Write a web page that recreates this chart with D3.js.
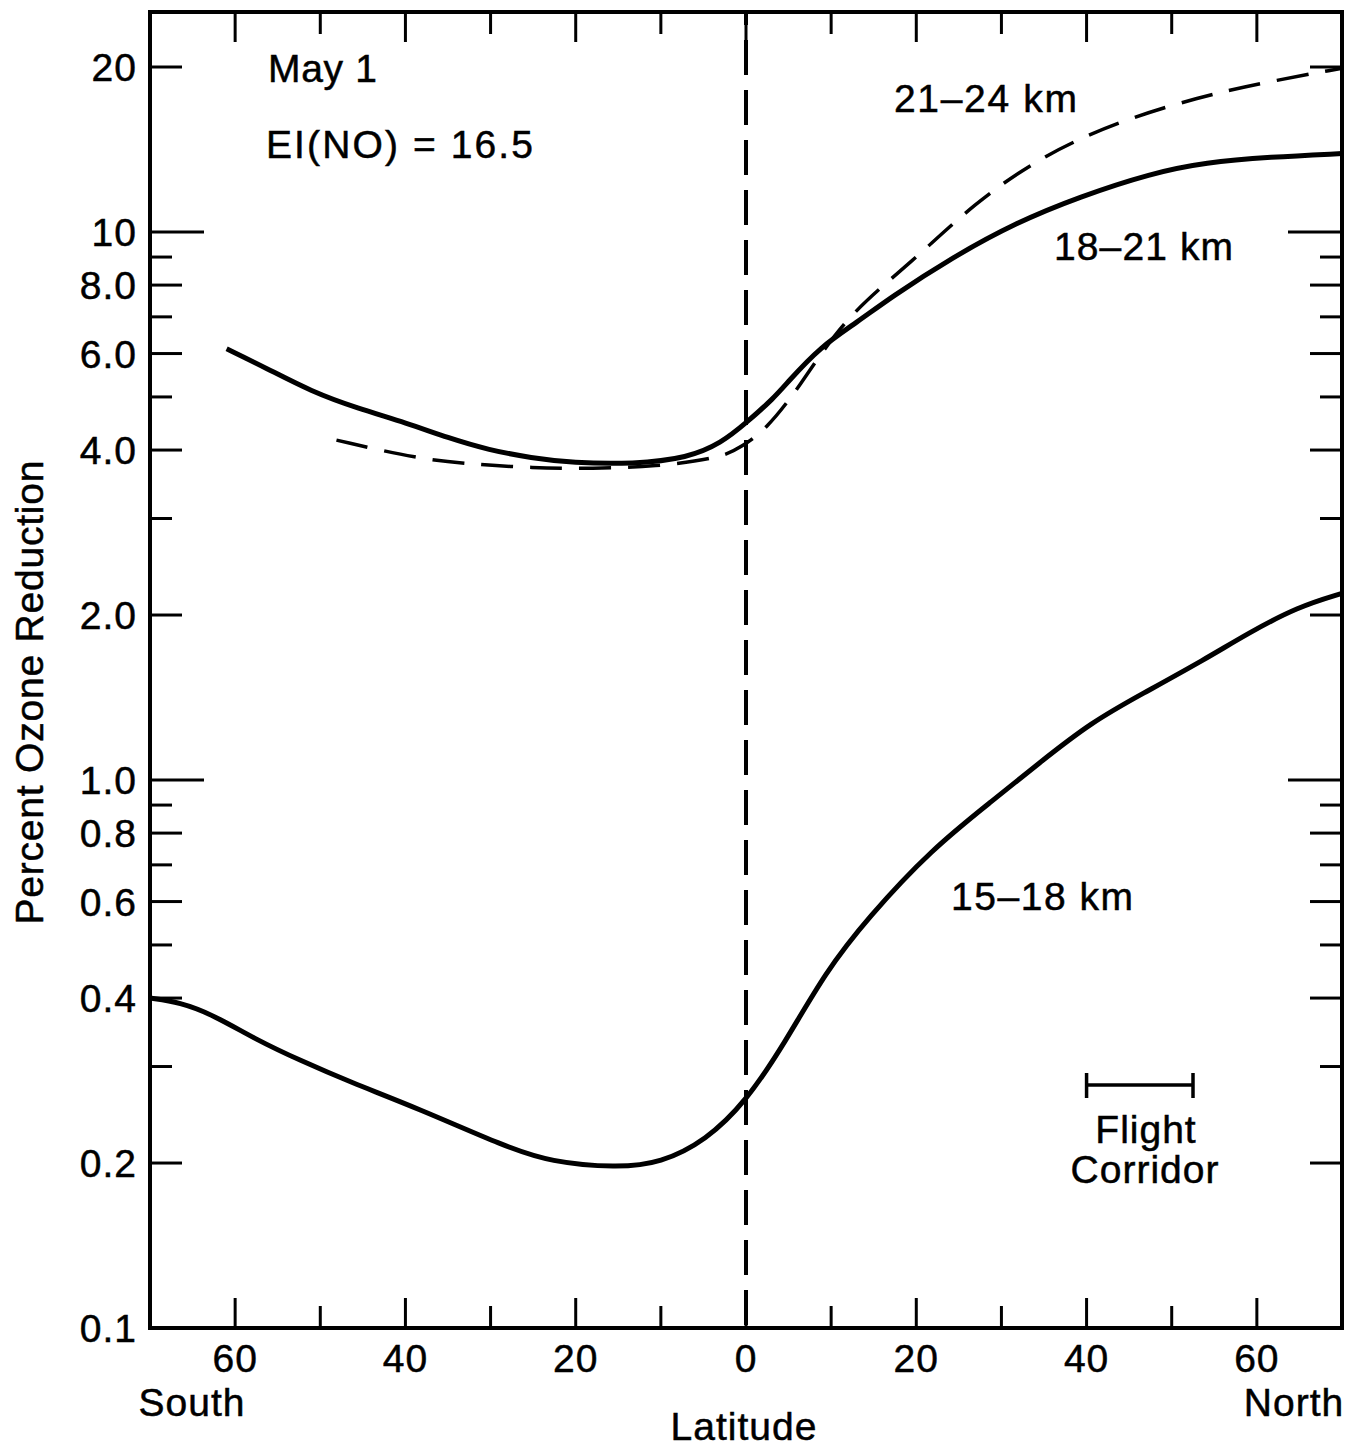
<!DOCTYPE html>
<html>
<head>
<meta charset="utf-8">
<script src="https://cdn.jsdelivr.net/npm/d3@7"></script>
<style>
  body { margin: 0; background: #fff; }
  text { font-family: "Liberation Sans", Arial, Helvetica, sans-serif; fill: #000; stroke: #000; stroke-width: 0.5px; letter-spacing: 1px; }
</style>
</head>
<body>
<div id="chart"></div>
<script>
//data (latitude: south negative, north positive)
const lat_15_18 = [-70, -66.5, -62.6, -57.4, -52.4, -46.5, -38.6, -28.2, -23, -15.2, -10, -4.7, 0, 4.5, 9.4, 14.3, 21.8, 29.2, 34.2, 40.6, 46.5, 53.9, 58.9, 64.8, 70];
const val_15_18 = [0.40, 0.393, 0.373, 0.335, 0.308, 0.281, 0.252, 0.214, 0.201, 0.196, 0.200, 0.220, 0.259, 0.330, 0.448, 0.560, 0.748, 0.923, 1.067, 1.276, 1.435, 1.66, 1.85, 2.07, 2.19];

const lat_18_21 = [-61, -56.4, -51, -45.7, -39.8, -35, -30.2, -25.2, -20.4, -13.2, -6.8, -2.9, 0, 3.3, 4.8, 8.7, 13.1, 16.9, 24.3, 31.7, 39.2, 47.6, 54, 61.5, 70];
const val_18_21 = [6.12, 5.65, 5.11, 4.77, 4.48, 4.21, 4.0, 3.87, 3.79, 3.77, 3.87, 4.12, 4.48, 4.98, 5.30, 6.17, 6.85, 7.58, 9.0, 10.4, 11.6, 12.8, 13.4, 13.7, 13.9];

const lat_21_24 = [-48.1, -38.4, -32, -25.2, -18, -10.7, -2.9, -0.6, 2.3, 6.2, 11.6, 19.4, 26.8, 35.2, 44.2, 53.1, 60.5, 70];
const val_21_24 = [4.17, 3.85, 3.77, 3.71, 3.70, 3.73, 3.87, 4.05, 4.35, 5.19, 7.0, 8.78, 11.3, 13.9, 16.0, 17.6, 18.7, 19.9];

//axis ticks
const lat_ticks = [-60, -50, -40, -30, -20, -10, 0, 10, 20, 30, 40, 50, 60];
const lat_labels = [-60, -40, -20, 0, 20, 40, 60];
const y_ticks = [0.2, 0.3, 0.4, 0.5, 0.6, 0.7, 0.8, 0.9, 1, 2, 3, 4, 5, 6, 7, 8, 9, 10, 20];
const y_labels = [0.1, 0.2, 0.4, 0.6, 0.8, 1, 2, 4, 6, 8, 10, 20];
const y_label_text = ['0.1', '0.2', '0.4', '0.6', '0.8', '1.0', '2.0', '4.0', '6.0', '8.0', '10', '20'];

const flight_corridor = [40, 52.5];

//layout
const width = 1364, height = 1451;
const plot = {left: 150, right: 1342, top: 12, bottom: 1328};

const x = d3.scaleLinear().domain([-70, 70]).range([plot.left, plot.right]);
const y = d3.scaleLog().domain([0.1, 25.2]).range([plot.bottom, plot.top]);

const svg = d3.select('#chart')
    .append('svg')
    .attr('width', width)
    .attr('height', height);

//tick length depends on the kind of tick
function yTickLen(v) {
    if (v === 1 || v === 10) return 54;
    if (y_labels.includes(v)) return 32;
    return 22;
}
function xTickLen(v) {
    return (v % 20 === 0) ? 30 : 22;
}

//y ticks, left and right, pointing inward
const yt = svg.append('g').attr('stroke', '#000').attr('stroke-width', 3);
yt.selectAll('line.l')
    .data(y_ticks)
    .enter().append('line')
    .attr('class', 'l')
    .attr('x1', plot.left)
    .attr('x2', function(d) { return plot.left + yTickLen(d); })
    .attr('y1', function(d) { return y(d); })
    .attr('y2', function(d) { return y(d); });
yt.selectAll('line.r')
    .data(y_ticks)
    .enter().append('line')
    .attr('class', 'r')
    .attr('x1', plot.right)
    .attr('x2', function(d) { return plot.right - yTickLen(d); })
    .attr('y1', function(d) { return y(d); })
    .attr('y2', function(d) { return y(d); });

//x ticks, top and bottom
const xt = svg.append('g').attr('stroke', '#000').attr('stroke-width', 3);
xt.selectAll('line.b')
    .data(lat_ticks)
    .enter().append('line')
    .attr('class', 'b')
    .attr('x1', function(d) { return x(d); })
    .attr('x2', function(d) { return x(d); })
    .attr('y1', plot.bottom)
    .attr('y2', function(d) { return plot.bottom - xTickLen(d); });
xt.selectAll('line.t')
    .data(lat_ticks)
    .enter().append('line')
    .attr('class', 't')
    .attr('x1', function(d) { return x(d); })
    .attr('x2', function(d) { return x(d); })
    .attr('y1', plot.top)
    .attr('y2', function(d) { return plot.top + xTickLen(d); });

//frame
svg.append('rect')
    .attr('x', plot.left)
    .attr('y', plot.top)
    .attr('width', plot.right - plot.left)
    .attr('height', plot.bottom - plot.top)
    .attr('fill', 'none')
    .attr('stroke', '#000')
    .attr('stroke-width', 4);

//equator dashed line
svg.append('line')
    .attr('x1', x(0)).attr('x2', x(0))
    .attr('y1', plot.top).attr('y2', plot.bottom)
    .attr('stroke', '#000')
    .attr('stroke-width', 4)
    .attr('stroke-dasharray', '35,15')
    .attr('stroke-dashoffset', 22);

//tick labels
svg.append('g').selectAll('text')
    .data(y_labels)
    .enter().append('text')
    .attr('x', 137)
    .attr('y', function(d) { return y(d); })
    .attr('dy', '0.36em')
    .attr('text-anchor', 'end')
    .style('font-size', '39px')
    .text(function(d, i) { return y_label_text[i]; });

svg.append('g').selectAll('text')
    .data(lat_labels)
    .enter().append('text')
    .attr('x', function(d) { return x(d); })
    .attr('y', 1372)
    .attr('text-anchor', 'middle')
    .style('font-size', '39px')
    .text(function(d) { return Math.abs(d); });

svg.append('text').attr('x', 192).attr('y', 1416).attr('text-anchor', 'middle')
    .style('font-size', '39px').text('South');
svg.append('text').attr('x', 1294).attr('y', 1416).attr('text-anchor', 'middle')
    .style('font-size', '39px').text('North');
svg.append('text').attr('x', 744).attr('y', 1440).attr('text-anchor', 'middle')
    .style('font-size', '39px').text('Latitude');

svg.append('text')
    .attr('transform', 'translate(43, 692) rotate(-90)')
    .attr('text-anchor', 'middle')
    .style('font-size', '39px')
    .attr('textLength', 465)
    .text('Percent Ozone Reduction');

//curves
const line = d3.line()
    .x(function(d) { return x(d[0]); })
    .y(function(d) { return y(d[1]); })
    .curve(d3.curveBasis);

function pairs(lats, vals) {
    return lats.map(function(l, i) { return [l, vals[i]]; });
}

svg.append('path')
    .datum(pairs(lat_15_18, val_15_18))
    .attr('d', line)
    .attr('fill', 'none')
    .attr('stroke', '#000')
    .attr('stroke-width', 5);

svg.append('path')
    .datum(pairs(lat_18_21, val_18_21))
    .attr('d', line)
    .attr('fill', 'none')
    .attr('stroke', '#000')
    .attr('stroke-width', 5);

svg.append('path')
    .datum(pairs(lat_21_24, val_21_24))
    .attr('d', line)
    .attr('fill', 'none')
    .attr('stroke', '#000')
    .attr('stroke-width', 3.5)
    .attr('stroke-dasharray', '32,17');

//annotations
function note(tx, ty, str, len) {
    svg.append('text').attr('x', tx).attr('y', ty)
        .style('font-size', '39px')
        .attr('textLength', len)
        .text(str);
}
note(268, 82, 'May 1', 110);
note(266, 158, 'EI(NO) = 16.5', 268);
note(894, 112, '21–24 km', 184);
note(1054, 260, '18–21 km', 180);
note(951, 910, '15–18 km', 183);

//flight corridor bar
const fc = svg.append('g').attr('stroke', '#000').attr('stroke-width', 3.5);
fc.append('line')
    .attr('x1', x(flight_corridor[0])).attr('x2', x(flight_corridor[1]))
    .attr('y1', 1085).attr('y2', 1085);
fc.selectAll('line.cap')
    .data(flight_corridor)
    .enter().append('line')
    .attr('class', 'cap')
    .attr('x1', function(d) { return x(d); })
    .attr('x2', function(d) { return x(d); })
    .attr('y1', 1073).attr('y2', 1098);

svg.append('text').attr('x', 1146).attr('y', 1143).attr('text-anchor', 'middle')
    .style('font-size', '39px').text('Flight');
svg.append('text').attr('x', 1145).attr('y', 1183).attr('text-anchor', 'middle')
    .style('font-size', '39px').text('Corridor');
</script>
</body>
</html>
